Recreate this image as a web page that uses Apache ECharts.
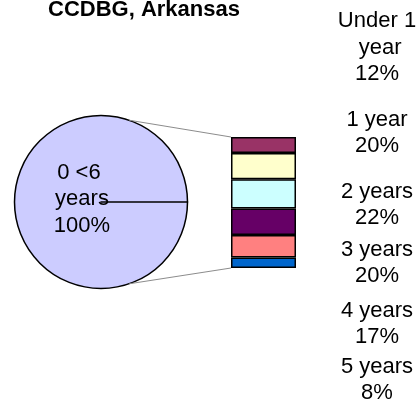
<!DOCTYPE html>
<html>
<head>
<meta charset="utf-8">
<script src="https://cdn.jsdelivr.net/npm/echarts@6/dist/echarts.min.js"></script>
<style>
html,body{margin:0;padding:0;background:#fff;}
#chart{width:417px;height:402px;}
</style>
</head>
<body>
<div id="chart"></div>
<script>
// ---- data ----
const chartTitle = 'CCDBG, Arkansas';
const pieNames = ['0 <6 years'];
const pieValues = [100];
const ageGroups = ['Under 1 year', '1 year', '2 years', '3 years', '4 years', '5 years'];
const agePercents = [12, 20, 22, 20, 17, 8];

// ---- styles / layout ----
const segColors = ['#993366', '#FFFFCC', '#CCFFFF', '#660066', '#FF8080', '#0066CC'];
const labelCentersY = [47.5, 133, 205, 263, 324, 380];
const labelCenterX = 377;
const FONT = 'Arial, "Liberation Sans", sans-serif';
const pieCenter = [101, 202];
const pieRadius = 86.5;
const barGrid = { left: 231, top: 137, width: 65, height: 131 };

const chart = echarts.init(document.getElementById('chart'), null, { renderer: 'canvas' });

const total = agePercents.reduce((a, b) => a + b, 0);

const barSeries = [];
for (let i = ageGroups.length - 1; i >= 0; i--) {
  const cy = labelCentersY[i];
  barSeries.push({
    type: 'bar',
    name: ageGroups[i],
    stack: 'age',
    barWidth: '100%',
    data: [agePercents[i]],
    itemStyle: { color: segColors[i], borderColor: '#000', borderWidth: 1.5 },
    label: {
      show: true,
      position: 'right',
      formatter: '{a}\n{c}%',
      color: '#000',
      fontFamily: FONT,
      fontSize: 22,
      lineHeight: 26.5,
      width: 84,
      overflow: 'break',
      align: 'center'
    },
    labelLayout: function () {
      return { x: labelCenterX, y: cy, align: 'center', verticalAlign: 'middle' };
    },
    emphasis: { disabled: true }
  });
}

const option = {
  animation: false,
  backgroundColor: '#fff',
  title: {
    text: chartTitle,
    left: 48,
    top: -1,
    padding: 0,
    textStyle: { fontFamily: FONT, fontSize: 22, fontWeight: 'bold', color: '#000' }
  },
  grid: { left: barGrid.left, top: barGrid.top, width: barGrid.width, height: barGrid.height, containLabel: false },
  xAxis: { type: 'category', data: ['age'], show: false },
  yAxis: { type: 'value', min: 0, max: total, show: false, splitLine: { show: false } },
  series: [
    {
      type: 'pie',
      center: pieCenter,
      radius: pieRadius,
      startAngle: 0,
      clockwise: true,
      avoidLabelOverlap: false,
      emphasis: { disabled: true },
      itemStyle: { color: '#CCCCFF', borderColor: '#000', borderWidth: 1.5 },
      label: {
        show: true,
        position: 'center',
        offset: [-19, -3],
        formatter: '{b}\n{c}%',
        color: '#000',
        fontFamily: FONT,
        fontSize: 22,
        lineHeight: 26.5,
        width: 62,
        overflow: 'break',
        align: 'center'
      },
      labelLine: { show: false },
      data: pieNames.map((n, i) => ({ name: n, value: pieValues[i] })).concat([
        { name: '', value: 0, label: { show: false } }
      ])
    }
  ].concat(barSeries)
};

chart.setOption(option);

// connector lines from pie to bar, computed from layout
const topPt = chart.convertToPixel({ xAxisIndex: 0, yAxisIndex: 0 }, [0, total]);
const botPt = chart.convertToPixel({ xAxisIndex: 0, yAxisIndex: 0 }, [0, 0]);
const barLeftX = topPt[0] - barGrid.width / 2;
const ang = 71 * Math.PI / 180;
const pTop = [pieCenter[0] + pieRadius * Math.cos(ang), pieCenter[1] - pieRadius * Math.sin(ang)];
const pBot = [pieCenter[0] + pieRadius * Math.cos(ang), pieCenter[1] + pieRadius * Math.sin(ang)];
chart.setOption({
  graphic: [
    { type: 'line', shape: { x1: pTop[0], y1: pTop[1], x2: barLeftX, y2: topPt[1] }, style: { stroke: '#8c8c8c', lineWidth: 1 }, z: 10 },
    { type: 'line', shape: { x1: pBot[0], y1: pBot[1], x2: barLeftX, y2: botPt[1] }, style: { stroke: '#8c8c8c', lineWidth: 1 }, z: 10 }
  ]
});
</script>
</body>
</html>
